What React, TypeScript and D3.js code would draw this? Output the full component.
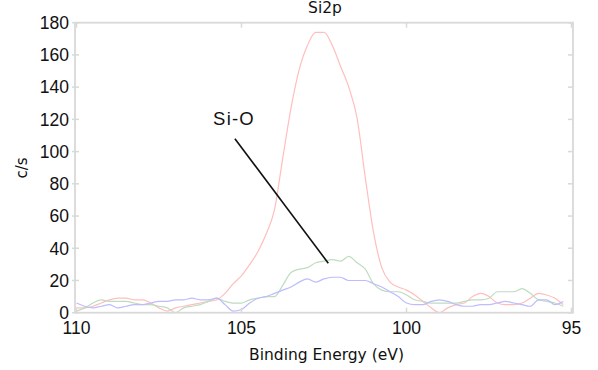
import React from "react";
import * as d3 from "d3";

const energies = [
  110, 109.75, 109.5, 109.25, 109, 108.75, 108.5, 108.25, 108, 107.75,
  107.5, 107.25, 107, 106.75, 106.5, 106.25, 106, 105.75, 105.5, 105.25,
  105, 104.75, 104.5, 104.25, 104, 103.75, 103.5, 103.25, 103, 102.75,
  102.5, 102.25, 102, 101.75, 101.5, 101.25, 101, 100.75, 100.5, 100.25,
  100, 99.75, 99.5, 99.25, 99, 98.75, 98.5, 98.25, 98, 97.75,
  97.5, 97.25, 97, 96.75, 96.5, 96.25, 96, 95.75, 95.5, 95.25,
];

const redSeries = [
  3, 3, 4, 6, 8, 9, 9, 8, 8, 6,
  3, 1, 3, 4, 5, 6, 7, 8, 12, 18,
  23, 30, 38, 49, 64, 96, 127, 151, 166, 174,
  174, 166, 153, 140, 121, 84, 50, 28, 19, 16,
  14, 11, 7, 3, 0, 3, 5, 6, 10, 12,
  10, 6, 5, 5, 6, 9, 12, 11, 9, 5,
];

const greenSeries = [
  1, 3, 6, 8, 7, 7, 7, 6, 5, 5,
  4, 3, 0, 3, 4, 5, 7, 9, 7, 6,
  6, 8, 9, 10, 10, 17, 25, 27, 28, 31,
  32, 33, 32, 35, 31, 27, 18, 14, 13, 13,
  11, 8, 7, 6, 6, 6, 6, 7, 8, 8,
  9, 13, 13, 13, 15, 12, 8, 7, 6, 4,
];

const blueSeries = [
  6, 4, 3, 4, 5, 3, 4, 5, 5, 6,
  7, 7, 8, 8, 9, 8, 8, 9, 5, 1,
  2, 6, 9, 10, 12, 14, 16, 19, 21, 19,
  21, 22, 22, 20, 20, 20, 18, 16, 13, 10,
  6, 5, 5, 7, 8, 7, 5, 4, 4, 5,
  5, 6, 7, 6, 5, 4, 8, 8, 5, 7,
];

const xTicks = [110, 105, 100, 95];
const yTicks = [0, 20, 40, 60, 80, 100, 120, 140, 160, 180];

const titleText = "Si2p";
const xLabel = "Binding Energy (eV)";
const yLabel = "c/s";
const annotationText = "Si-O";
const annotationFrom: [number, number] = [105.2, 108];
const annotationTo: [number, number] = [102.37, 30.7];

export default function App() {
  const x = d3.scaleLinear().domain([110, 95]).range([76.5, 571.5]);
  const y = d3.scaleLinear().domain([0, 180]).range([312.7, 22.7]);

  const line = d3
    .line<[number, number]>()
    .x((d) => x(d[0]))
    .y((d) => y(d[1]))
    .curve(d3.curveMonotoneX);

  const mk = (vals: number[]) =>
    energies.map((e, i) => [e, vals[i]] as [number, number]);

  const left = x(110) - 1.5;
  const right = x(95) + 1.5;
  const top = y(180);
  const bottom = y(0);
  const frameColor = "#d9d9d9";
  const font = "'Liberation Sans', Arial, sans-serif";
  const wide = "'DejaVu Sans', sans-serif";

  return (
    <svg
      width={598}
      height={370}
      style={{ position: "absolute", left: 0, top: 0, background: "#fff" }}
    >
      <rect x={0} y={0} width={598} height={370} fill="#fff" />
      {/* series */}
      <path d={line(mk(redSeries)) || ""} fill="none" stroke="#ffbebe" strokeWidth={1.2} />
      <path d={line(mk(greenSeries)) || ""} fill="none" stroke="#bfdcbf" strokeWidth={1.2} />
      <path d={line(mk(blueSeries)) || ""} fill="none" stroke="#bcbcff" strokeWidth={1.2} />

      {/* frame */}
      <rect
        x={left}
        y={top}
        width={right - left}
        height={bottom - top}
        fill="none"
        stroke={frameColor}
        strokeWidth={1.8}
      />
      {/* x ticks */}
      {xTicks.map((t) => (
        <g key={"xt" + t}>
          <line x1={x(t)} x2={x(t)} y1={bottom} y2={bottom - 5} stroke={frameColor} strokeWidth={1.5} />
          <line x1={x(t)} x2={x(t)} y1={top} y2={top + 5} stroke={frameColor} strokeWidth={1.5} />
          <text
            x={x(t)}
            y={bottom + 21.5}
            textAnchor="middle"
            fontFamily={font}
            fontSize={17.5}
            fill="#111"
          >
            {t}
          </text>
        </g>
      ))}
      {/* y ticks */}
      {yTicks.map((t) => (
        <g key={"yt" + t}>
          <line x1={left - 3} x2={left + 4} y1={y(t)} y2={y(t)} stroke={frameColor} strokeWidth={1.5} />
          <line x1={right} x2={right - 5} y1={y(t)} y2={y(t)} stroke={frameColor} strokeWidth={1.5} />
          <text
            x={left - 6}
            y={y(t)}
            dy="0.36em"
            textAnchor="end"
            fontFamily={font}
            fontSize={17.5}
            fill="#111"
          >
            {t}
          </text>
        </g>
      ))}

      {/* title */}
      <text x={325} y={13} textAnchor="middle" fontFamily={wide} fontSize={15.5} fill="#111">
        {titleText}
      </text>
      {/* x label */}
      <text
        x={326.5}
        y={360}
        textAnchor="middle"
        fontFamily={wide}
        fontSize={15.5}
        fill="#111"
      >
        {xLabel}
      </text>
      {/* y label */}
      <text
        transform={`translate(27, 168) rotate(-90)`}
        textAnchor="middle"
        fontFamily={wide}
        fontSize={15}
        fill="#111"
      >
        {yLabel}
      </text>

      {/* annotation */}
      <text
        x={234}
        y={125}
        textAnchor="middle"
        fontFamily={font}
        fontSize={18.5}
        letterSpacing={1.2}
        fill="#111"
      >
        {annotationText}
      </text>
      <line
        x1={x(annotationFrom[0])}
        y1={y(annotationFrom[1])}
        x2={x(annotationTo[0])}
        y2={y(annotationTo[1])}
        stroke="#111"
        strokeWidth={1.6}
      />
    </svg>
  );
}
